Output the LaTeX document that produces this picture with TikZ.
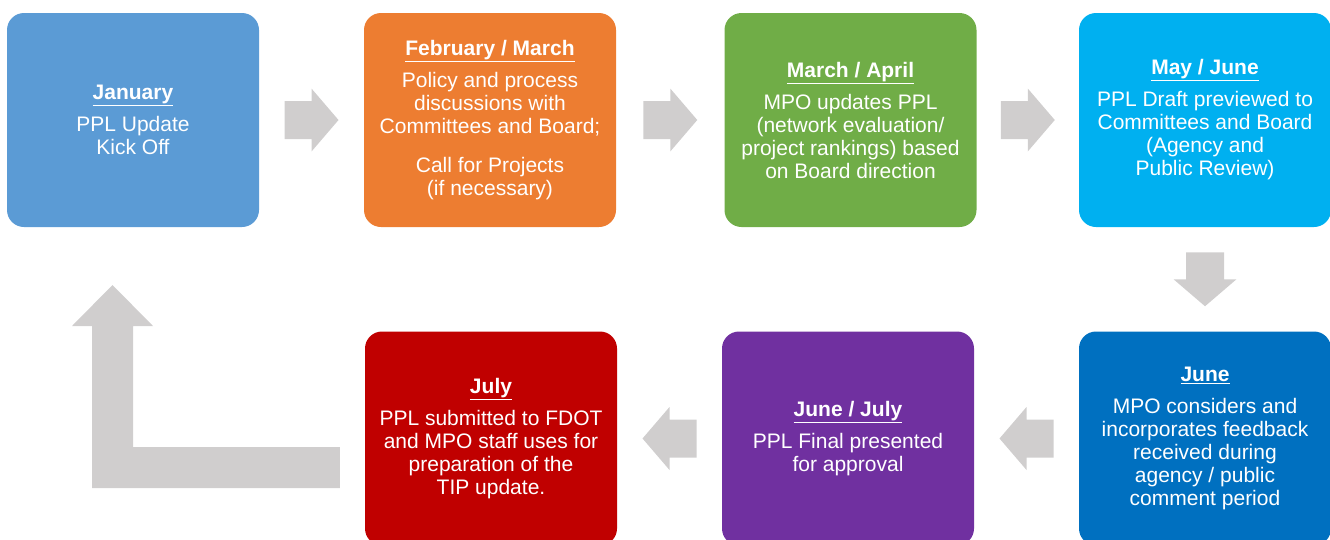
\documentclass[tikz,border=0pt]{standalone}
\usepackage{fontspec}
\setmainfont{Liberation Sans}
\usetikzlibrary{calc}
\definecolor{cA}{HTML}{5B9BD5}
\definecolor{cB}{HTML}{ED7D31}
\definecolor{cC}{HTML}{70AD47}
\definecolor{cD}{HTML}{00B0F0}
\definecolor{cE}{HTML}{0070C0}
\definecolor{cF}{HTML}{7030A0}
\definecolor{cG}{HTML}{C00000}
\definecolor{arrowgray}{HTML}{D0CECE}
\newcommand{\ttl}[1]{\textbf{\underline{#1}}\\[9pt]}
\tikzset{
  stepbox/.style={draw=none, rounded corners=17pt, minimum width=252pt, minimum height=214pt,
    inner sep=0pt, text=white, align=center, font=\fontsize{21}{23}\selectfont},
  blockarrow/.pic={\fill[arrowgray] (-27,-19) -- (0,-19) -- (0,-31.5) -- (27,0) -- (0,31.5) -- (0,19) -- (-27,19) -- cycle;}
}
\begin{document}
\begin{tikzpicture}[x=1pt,y=-1pt]
\useasboundingbox (0,0) rectangle (1330,539);
\clip (0,0) rectangle (1330,539);
\node[stepbox, fill=cA] (b1) at (133,120) {\ttl{January}PPL Update\\Kick Off};
\node[stepbox, fill=cB] (b2) at (490,120) {\ttl{February / March}Policy and process\\discussions with\\Committees and Board;\\[16pt]Call for Projects\\(if necessary)};
\node[stepbox, fill=cC] (b3) at (850.5,120) {\ttl{March / April}MPO updates PPL\\(network evaluation/\\project rankings) based\\on Board direction};
\node[stepbox, fill=cD] (b4) at (1205,120) {\ttl{May / June}PPL Draft previewed to\\Committees and Board\\(Agency and\\Public Review)};
\node[stepbox, fill=cE] (b5) at (1205,438.5) {\ttl{June}MPO considers and\\incorporates feedback\\received during\\agency / public\\comment period};
\node[stepbox, fill=cF] (b6) at (848,438.5) {\ttl{June / July}PPL Final presented\\for approval};
\node[stepbox, fill=cG] (b7) at (491,438.5) {\ttl{July}PPL submitted to FDOT\\and MPO staff uses for\\preparation of the\\TIP update.};
\pic at ($(b1.east)!0.5!(b2.west)$) {blockarrow};
\pic at ($(b2.east)!0.5!(b3.west)$) {blockarrow};
\pic at ($(b3.east)!0.5!(b4.west)$) {blockarrow};
\pic[rotate=-90] at ($(b4.south)!0.5!(b5.north)$) {blockarrow};
\pic[rotate=180] at ($(b5.west)!0.5!(b6.east)$) {blockarrow};
\pic[rotate=180] at ($(b6.west)!0.5!(b7.east)$) {blockarrow};
\fill[arrowgray] ($(b7.west)+(-25,8.5)$) coordinate (lend) -- (133,447) -- (133,326) -- (153,326) -- (112.5,285) -- (72,326) -- (92,326) -- (92,488) -- (lend |- 0,488) -- cycle;
\end{tikzpicture}
\end{document}
